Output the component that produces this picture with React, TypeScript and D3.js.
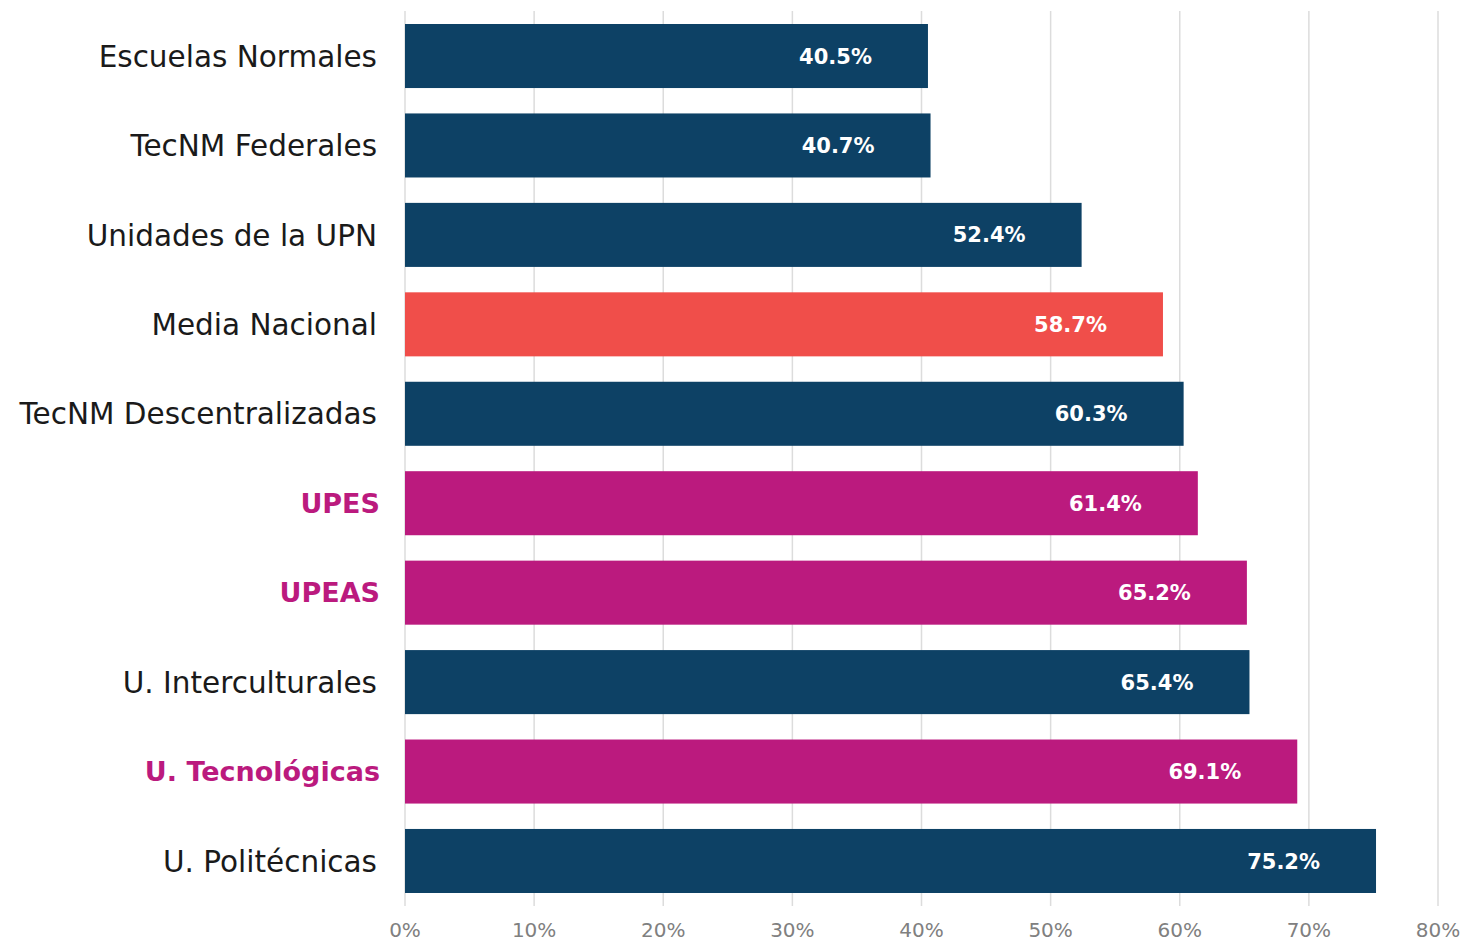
import React, { useEffect, useRef } from 'react';
import * as d3 from 'd3';

const categories = [
  'Escuelas Normales',
  'TecNM Federales',
  'Unidades de la UPN',
  'Media Nacional',
  'TecNM Descentralizadas',
  'UPES',
  'UPEAS',
  'U. Interculturales',
  'U. Tecnológicas',
  'U. Politécnicas',
];
const values = [40.5, 40.7, 52.4, 58.7, 60.3, 61.4, 65.2, 65.4, 69.1, 75.2];
// group of each bar: base, national mean, highlighted
const groups = ['base', 'base', 'base', 'mean', 'base', 'hl', 'hl', 'base', 'hl', 'base'];
const ticks = [0, 10, 20, 30, 40, 50, 60, 70, 80];

const colors: Record<string, string> = { base: '#0d4165', mean: '#f04e4a', hl: '#bb1a7e' };

const App = () => {
  const ref = useRef<SVGSVGElement>(null);

  useEffect(() => {
    drawChart(ref.current);
  }, []);

  return (
    <div style={{ position: 'absolute', left: 0, top: 0 }}>
      <svg ref={ref} width={1465} height={943} />
    </div>
  );
};

function drawChart(node: SVGSVGElement | null) {
  if (!node) return;
  const svg = d3.select(node);
  svg.selectAll('*').remove();
  const font = '"DejaVu Sans", sans-serif';

  const x = d3.scaleLinear().domain([0, 80]).range([405, 1438]);
  const y = d3
    .scaleBand()
    .domain(categories)
    .range([11.3, 905.7])
    .paddingInner(0.284)
    .paddingOuter(0.142);

  // grid lines
  svg
    .append('g')
    .selectAll('line')
    .data(ticks)
    .join('line')
    .attr('x1', (d) => x(d))
    .attr('x2', (d) => x(d))
    .attr('y1', 11)
    .attr('y2', 906)
    .attr('stroke', '#dcdcdc')
    .attr('stroke-width', 1.5);

  // bars
  const data = categories.map((c, i) => ({ c, v: values[i], g: groups[i] }));
  svg
    .append('g')
    .selectAll('rect')
    .data(data)
    .join('rect')
    .attr('x', x(0))
    .attr('y', (d) => y(d.c)!)
    .attr('width', (d) => x(d.v) - x(0))
    .attr('height', y.bandwidth())
    .attr('fill', (d) => colors[d.g]);

  // value labels
  svg
    .append('g')
    .selectAll('text')
    .data(data)
    .join('text')
    .attr('x', (d) => x(d.v) - 56)
    .attr('y', (d) => y(d.c)! + y.bandwidth() / 2)
    .attr('dy', '0.36em')
    .attr('text-anchor', 'end')
    .attr('fill', '#fff')
    .attr('font-family', font)
    .attr('font-weight', 'bold')
    .attr('font-size', 21)
    .text((d) => `${d.v.toFixed(1)}%`);

  // category labels
  svg
    .append('g')
    .selectAll('text')
    .data(data)
    .join('text')
    .attr('x', (d) => (d.g === 'hl' ? 380 : 377))
    .attr('y', (d) => y(d.c)! + y.bandwidth() / 2)
    .attr('dy', '0.36em')
    .attr('text-anchor', 'end')
    .attr('fill', (d) => (d.g === 'hl' ? colors.hl : '#1a1a1a'))
    .attr('font-family', font)
    .attr('font-weight', (d) => (d.g === 'hl' ? 'bold' : 'normal'))
    .attr('font-size', (d) => (d.g === 'hl' ? 27 : 29.5))
    .text((d) => d.c);

  // x axis tick labels
  svg
    .append('g')
    .selectAll('text')
    .data(ticks)
    .join('text')
    .attr('x', (d) => x(d))
    .attr('y', 930)
    .attr('dy', '0.36em')
    .attr('text-anchor', 'middle')
    .attr('fill', '#808080')
    .attr('font-family', font)
    .attr('font-size', 20)
    .text((d) => `${d}%`);
}

export default App;
